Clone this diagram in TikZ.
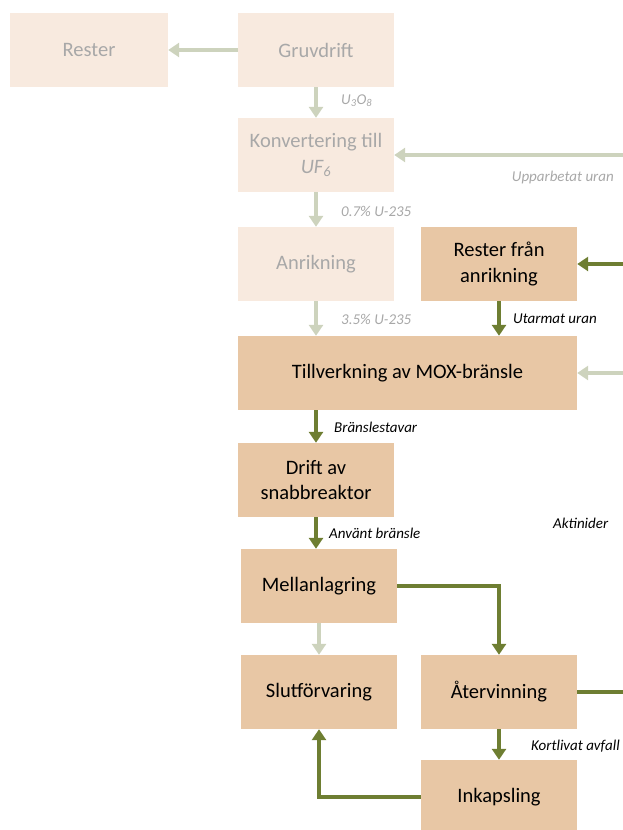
\documentclass[tikz,border=0pt]{standalone}
\usepackage{fontspec}
\setmainfont{Carlito}
\usetikzlibrary{arrows.meta}
\definecolor{boxdark}{HTML}{E8C7A5}
\definecolor{boxlight}{HTML}{F8EADF}
\definecolor{txtlight}{HTML}{A8A8A8}
\definecolor{arrdark}{HTML}{6E7E32}
\definecolor{arrlight}{HTML}{CDD3BD}
\tikzset{
  box/.style={fill=boxdark, minimum width=156pt, minimum height=74pt, inner sep=0pt,
    align=center, font=\fontsize{20.5}{25.5}\selectfont, text=black},
  fadedbox/.style={box, fill=boxlight, text=txtlight},
  flow/.style={line width=3.5pt, draw=arrdark, -{Triangle[length=11pt,width=14pt]}},
  fadedflow/.style={flow, draw=arrlight},
  plainflow/.style={line width=3.5pt, draw=arrdark},
  lbl/.style={font=\fontsize{15}{17}\selectfont\itshape, text=black, inner sep=0pt},
  fadedlbl/.style={lbl, text=txtlight},
}
\begin{document}
\begin{tikzpicture}[x=1pt, y=-1pt]
\useasboundingbox (0,0) rectangle (623,830);
% faded upstream steps
\node[fadedbox, minimum width=158pt] (rester) at (89,50) {Rester};
\node[fadedbox] (gruv) at (316,50) {Gruvdrift};
\node[fadedbox] (konv) at (316,155) {Konvertering till\\\textit{UF\textsubscript{6}}};
\node[fadedbox] (anrik) at (316,264) {Anrikning};
% active steps
\node[box] (restanrik) at (499,264) {Rester från\\anrikning};
\node[box, minimum width=339pt] (mox) at (407.5,373) {Tillverkning av MOX-bränsle};
\node[box] (drift) at (316,480) {Drift av\\snabbreaktor};
\node[box] (mellan) at (319,586) {Mellanlagring};
\node[box] (slut) at (319,692) {Slutförvaring};
\node[box] (ater) at (499,692) {Återvinning};
\node[box] (inkap) at (499,797) {Inkapsling};
% free ends at the right margin
\coordinate (eKonv) at (623,155);
\coordinate (eRest) at (623,264);
\coordinate (eMox) at (623,373);
\coordinate (eAter) at (623,692);
% faded connectors
\draw[fadedflow] (gruv) -- (rester);
\draw[fadedflow] (gruv) -- (konv);
\draw[fadedflow] (eKonv) -- (konv);
\draw[fadedflow] (konv) -- (anrik);
\draw[fadedflow] (anrik) -- (anrik|-mox.north);
\draw[fadedflow] (eMox) -- (mox);
\draw[fadedflow] (mellan) -- (slut);
% active connectors
\draw[flow] (eRest) -- (restanrik);
\draw[flow] (restanrik) -- (restanrik|-mox.north);
\draw[flow] (drift|-mox.south) -- (drift);
\draw[flow] (drift) -- (drift|-mellan.north);
\draw[flow] (mellan.east) -| (ater.north);
\draw[plainflow] (ater) -- (eAter);
\draw[flow] (ater) -- (inkap);
\draw[flow] (inkap.west) -| (slut.south);
% labels
\node[fadedlbl, anchor=west] (lU) at (341,101) {U\textsubscript{3}O\textsubscript{8}};
\node[fadedlbl, anchor=east] (lUpp) at (614,177) {Upparbetat uran};
\node[fadedlbl, anchor=west] (l07) at (341,211) {0.7\% U-235};
\node[fadedlbl, anchor=west] (l35) at (341,319) {3.5\% U-235};
\node[lbl, anchor=west] (lUt) at (513,319) {Utarmat uran};
\node[lbl, anchor=west] (lBr) at (334,427) {Bränslestavar};
\node[lbl, anchor=west] (lAnv) at (329,533) {Använt bränsle};
\node[lbl, anchor=west] (lAkt) at (553,523) {Aktinider};
\node[lbl, anchor=west] (lKort) at (531,746) {Kortlivat avfall};
\end{tikzpicture}
\end{document}
